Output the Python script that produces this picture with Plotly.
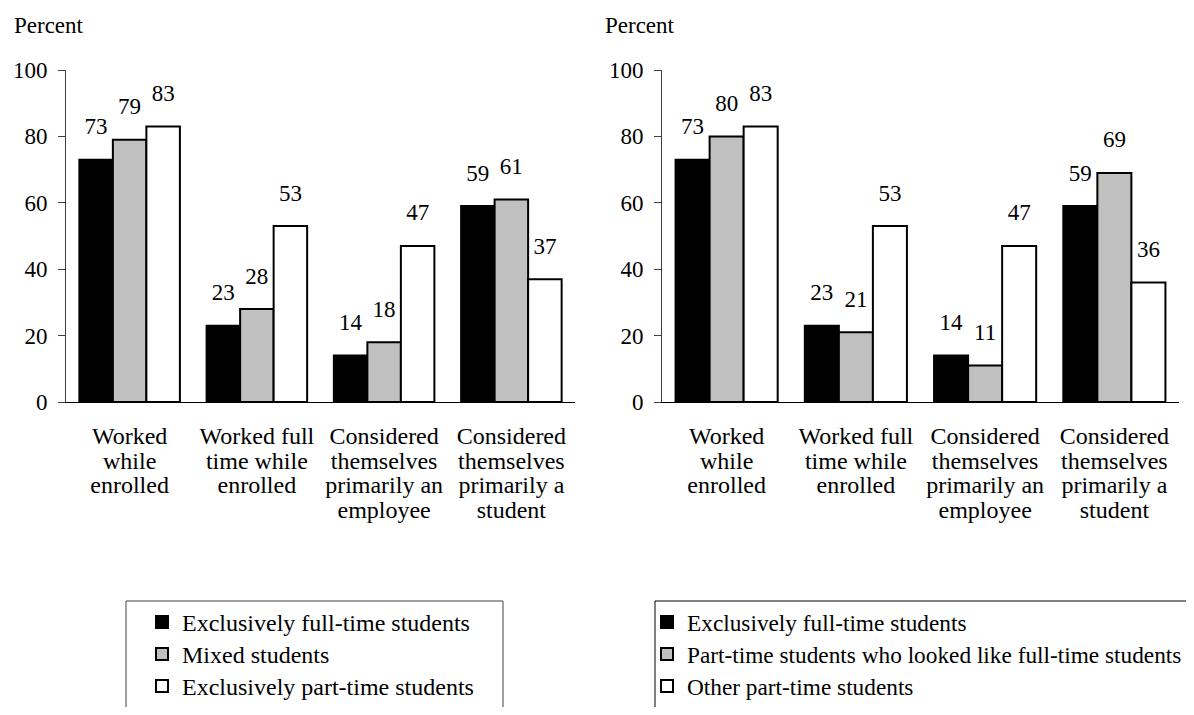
import plotly.graph_objects as go

FONT = "Liberation Serif"
FS = 23

categories = [
    "Worked<br>while<br>enrolled",
    "Worked full<br>time while<br>enrolled",
    "Considered<br>themselves<br>primarily an<br>employee",
    "Considered<br>themselves<br>primarily a<br>student",
]

# left panel
left_names = ["Exclusively full-time students", "Mixed students", "Exclusively part-time students"]
left_full = [73, 23, 14, 59]
left_mixed = [79, 28, 18, 61]
left_part = [83, 53, 47, 37]

# right panel
right_names = ["Exclusively full-time students", "Part-time students who looked like full-time students",
               "Other part-time students"]
right_full = [73, 23, 14, 59]
right_like = [80, 21, 11, 69]
right_other = [83, 53, 47, 36]

colors = ["#000000", "#c0c0c0", "#ffffff"]

# page body adds an 8px margin, so the figure is made 16px smaller
W, H = 1178, 699


def px_x(p):
    return (p - 8) / W


def px_y(p):
    return 1 - (p - 8) / H


def big(text, size):
    # glyphs drawn larger than the base font, so rows/lines stay tight
    return '<span style="font-size:%spx">%s</span>' % (size, text)


tick_text = ["<br>".join(big(part, 24) for part in c.split("<br>")) for c in categories]

fig = go.Figure()


def add_panel(names, series, xa, ya, legend, tag, name_size):
    for i, (name, vals) in enumerate(zip(names, series)):
        fig.add_trace(go.Bar(
            x=categories, y=vals, name=big(name, name_size), xaxis=xa, yaxis=ya,
            marker=dict(color=colors[i], line=dict(color="black", width=2)),
            offsetgroup=str(i), legend=legend, legendgroup=tag + str(i),
            hoverinfo="y",
        ))
        # value labels sitting a little above each bar
        fig.add_trace(go.Scatter(
            x=categories, y=vals, xaxis=xa, yaxis=ya, mode="markers+text",
            text=[str(v) for v in vals], textposition="top center",
            textfont=dict(family=FONT, size=FS, color="black"),
            marker=dict(size=30, color="rgba(0,0,0,0)"),
            offsetgroup=str(i), showlegend=False, cliponaxis=False, hoverinfo="skip",
        ))


add_panel(left_names, [left_full, left_mixed, left_part], "x", "y", "legend", "l", 24)
add_panel(right_names, [right_full, right_like, right_other], "x2", "y2", "legend2", "r", 23.3)

ydom = [px_y(402), px_y(70)]
xaxis_style = dict(showline=True, linecolor="black", linewidth=1, ticks="", showgrid=False,
                   tickmode="array", tickvals=categories, ticktext=tick_text,
                   tickfont=dict(family=FONT, size=19, color="black"), ticklabelstandoff=18,
                   fixedrange=True, automargin=False)
yaxis_style = dict(range=[0, 100], dtick=20, showline=True, linecolor="#404040", linewidth=1,
                   ticks="outside", ticklen=7, tickcolor="#404040", showgrid=False, zeroline=False,
                   ticklabelstandoff=6, tickfont=dict(family=FONT, size=FS, color="black"),
                   fixedrange=True, automargin=False)

legend_style = dict(bgcolor="rgba(0,0,0,0)", borderwidth=0, tracegroupgap=0,
                    font=dict(family=FONT, size=22.3, color="black"),
                    xanchor="left", yanchor="top", traceorder="normal",
                    itemclick=False, itemdoubleclick=False)

fig.update_layout(
    width=W, height=H,
    margin=dict(l=0, r=0, t=0, b=0, autoexpand=False),
    plot_bgcolor="white", paper_bgcolor="white",
    barmode="group", bargap=0.21, bargroupgap=0,
    scattermode="group", scattergap=0.21,
    showlegend=True,
    xaxis=dict(domain=[px_x(66), px_x(575)], anchor="y", **xaxis_style),
    yaxis=dict(domain=ydom, anchor="x", **yaxis_style),
    xaxis2=dict(domain=[px_x(662), px_x(1179)], anchor="y2", **xaxis_style),
    yaxis2=dict(domain=ydom, anchor="x2", **yaxis_style),
    legend=dict(x=px_x(142), y=px_y(601), **legend_style),
    legend2=dict(x=px_x(647), y=px_y(601), **legend_style),
    font=dict(family=FONT, size=FS, color="black"),
    annotations=[
        dict(text="Percent", x=px_x(12), y=px_y(25), xref="paper", yref="paper",
             xanchor="left", yanchor="middle", showarrow=False, font=dict(family=FONT, size=FS)),
        dict(text="Percent", x=px_x(603), y=px_y(25), xref="paper", yref="paper",
             xanchor="left", yanchor="middle", showarrow=False, font=dict(family=FONT, size=FS)),
    ],
    shapes=[
        dict(type="rect", xref="paper", yref="paper", x0=px_x(126), x1=px_x(503),
             y0=-0.05, y1=px_y(601), line=dict(color="#404040", width=1)),
        dict(type="rect", xref="paper", yref="paper", x0=px_x(655), x1=1.05,
             y0=-0.05, y1=px_y(601), line=dict(color="black", width=1)),
    ],
)

fig.write_html("out.html")
